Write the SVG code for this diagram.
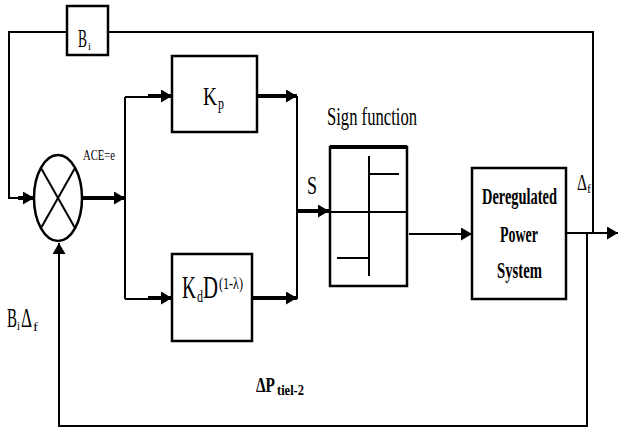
<svg xmlns="http://www.w3.org/2000/svg" width="618" height="428" viewBox="0 0 618 428">
<style>
.box{fill:#fff;stroke:#000;stroke-width:2.5}
.ln{fill:none;stroke:#000;stroke-width:2}
.th{fill:none;stroke:#000;stroke-width:4}
.t{font-family:"Liberation Serif","Times New Roman",serif;fill:#000}
.b{font-weight:bold}
</style>
<defs>
<marker id="ah" markerUnits="userSpaceOnUse" markerWidth="11" markerHeight="13" refX="11" refY="6.5" orient="auto">
<path d="M0,0 L11,6.5 L0,13 z" fill="#000"/>
</marker>
</defs>
<rect width="618" height="428" fill="#fff"/>
<g id="connectors">
<polyline class="ln" points="593,233 593,32 108,32"/>
<polyline class="ln" points="67,32 9,32 9,198 20,198"/>
<line class="th" x1="18" y1="198" x2="34" y2="198" marker-end="url(#ah)"/>
<line class="th" x1="82" y1="198" x2="125" y2="198" marker-end="url(#ah)"/>
<line class="ln" x1="125" y1="97" x2="125" y2="299"/>
<line class="ln" x1="125" y1="97" x2="150" y2="97"/>
<line class="th" x1="148" y1="96" x2="172" y2="96" marker-end="url(#ah)"/>
<line class="th" x1="257" y1="96" x2="297" y2="96" marker-end="url(#ah)"/>
<line class="ln" x1="297" y1="96" x2="297" y2="299"/>
<line class="ln" x1="125" y1="299" x2="150" y2="299"/>
<line class="th" x1="148" y1="298" x2="172" y2="298" marker-end="url(#ah)"/>
<line class="th" x1="252" y1="298" x2="297" y2="298" marker-end="url(#ah)"/>
<line class="th" x1="297" y1="211" x2="329" y2="211" marker-end="url(#ah)"/>
<line class="ln" x1="409" y1="234" x2="472" y2="234" marker-end="url(#ah)"/>
<line class="ln" x1="566" y1="233" x2="618" y2="233" marker-end="url(#ah)"/>
<polyline class="ln" points="587,233 587,426 59,426 59,243" marker-end="url(#ah)"/>
</g>
<g id="bi-box">
<rect class="box" x="67" y="6" width="41" height="49"/>
<text class="t" x="78" y="47" font-size="26" textLength="9" lengthAdjust="spacingAndGlyphs">B</text>
<text class="t" x="88" y="50" font-size="11" textLength="3" lengthAdjust="spacingAndGlyphs">i</text>
</g>
<g id="summer">
<ellipse cx="58" cy="198" rx="24" ry="43" fill="#fff" stroke="#000" stroke-width="2.5"/>
<line class="ln" x1="41" y1="168" x2="75" y2="228"/>
<line class="ln" x1="75" y1="168" x2="41" y2="228"/>
</g>
<g id="kp">
<rect class="box" x="172" y="56" width="85" height="76"/>
<text class="t" x="203" y="105" font-size="26" textLength="14" lengthAdjust="spacingAndGlyphs">K</text>
<text class="t" x="218" y="109" font-size="17" textLength="6" lengthAdjust="spacingAndGlyphs">p</text>
</g>
<g id="kd">
<rect class="box" x="172" y="254" width="80" height="87"/>
<text class="t" x="182" y="298" font-size="31" textLength="14" lengthAdjust="spacingAndGlyphs">K</text>
<text class="t" x="197" y="302" font-size="16" textLength="6" lengthAdjust="spacingAndGlyphs">d</text>
<text class="t" x="203" y="298" font-size="31" textLength="15" lengthAdjust="spacingAndGlyphs">D</text>
<text class="t" x="219" y="289" font-size="16" textLength="24" lengthAdjust="spacingAndGlyphs">(1-λ)</text>
</g>
<g id="sign">
<text class="t" x="327" y="125" font-size="26" textLength="90" lengthAdjust="spacingAndGlyphs">Sign function</text>
<rect class="box" x="330" y="147" width="77" height="139"/>
<line x1="330" y1="147" x2="407" y2="147" stroke="#000" stroke-width="4"/>
<line class="ln" x1="330" y1="212" x2="407" y2="212"/>
<line class="ln" x1="369" y1="156" x2="369" y2="276"/>
<line class="ln" x1="369" y1="174" x2="399" y2="174"/>
<line class="ln" x1="337" y1="258" x2="369" y2="258"/>
</g>
<g id="plant">
<rect class="box" x="472" y="168" width="94" height="131"/>
<text class="t b" x="482" y="204" font-size="24" textLength="75" lengthAdjust="spacingAndGlyphs">Deregulated</text>
<text class="t b" x="500" y="242" font-size="24" textLength="38" lengthAdjust="spacingAndGlyphs">Power</text>
<text class="t b" x="497" y="278" font-size="24" textLength="45" lengthAdjust="spacingAndGlyphs">System</text>
</g>
<g id="labels">
<text class="t" x="83" y="160" font-size="15" textLength="32" lengthAdjust="spacingAndGlyphs">ACE=e</text>
<text class="t" x="307" y="194" font-size="25" textLength="10" lengthAdjust="spacingAndGlyphs">S</text>
<text class="t" x="577" y="190" font-size="23" textLength="10" lengthAdjust="spacingAndGlyphs">Δ</text>
<text class="t" x="587" y="193" font-size="12" textLength="4" lengthAdjust="spacingAndGlyphs">f</text>
<text class="t" x="7" y="327" font-size="27" textLength="10" lengthAdjust="spacingAndGlyphs">B</text>
<text class="t" x="17" y="330" font-size="13" textLength="3" lengthAdjust="spacingAndGlyphs">i</text>
<text class="t" x="21" y="327" font-size="27" textLength="11" lengthAdjust="spacingAndGlyphs">Δ</text>
<text class="t" x="33" y="331" font-size="13" textLength="5" lengthAdjust="spacingAndGlyphs">f</text>
<text class="t b" x="256" y="392" font-size="22" textLength="19" lengthAdjust="spacingAndGlyphs">ΔP</text>
<text class="t b" x="277" y="395" font-size="14" textLength="27" lengthAdjust="spacingAndGlyphs">tiel-2</text>
</g>
</svg>
